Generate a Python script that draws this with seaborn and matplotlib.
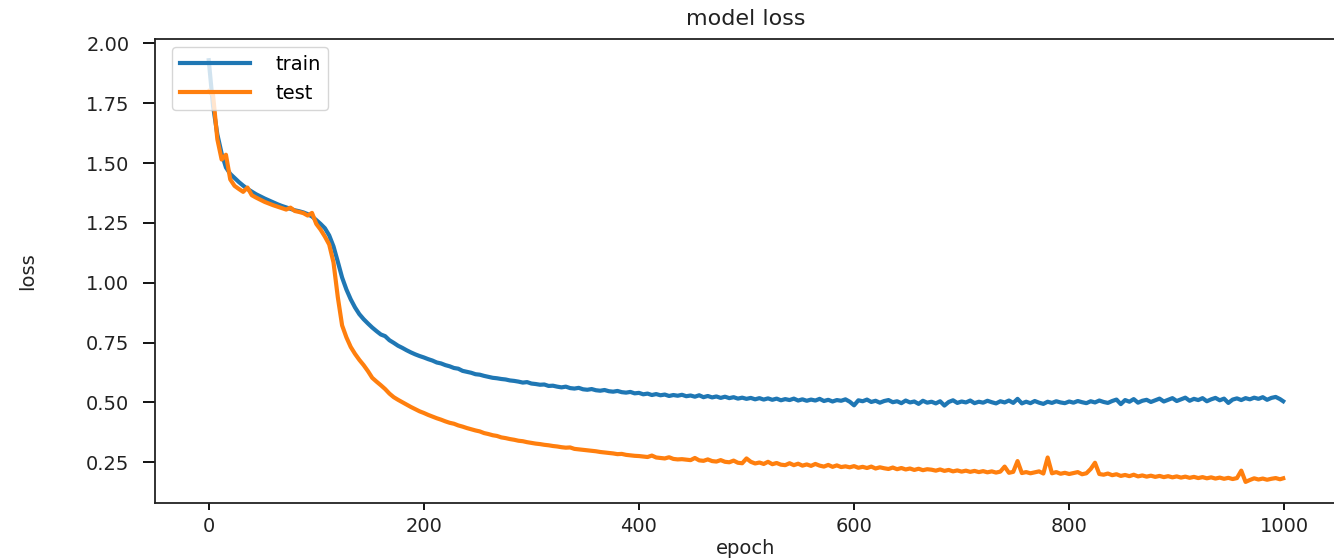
import numpy as np
import pandas as pd
import matplotlib
matplotlib.use("Agg")
import matplotlib.pyplot as plt
import seaborn as sns

# epochs sampled every 4, plus the final epoch
epochs = list(range(0, 1000, 4)) + [999]

train_loss = [
    1.930, 1.740, 1.620, 1.540, 1.482, 1.455, 1.438, 1.421, 1.406, 1.392,
    1.381, 1.370, 1.361, 1.352, 1.344, 1.336, 1.328, 1.321, 1.315, 1.309,
    1.303, 1.299, 1.294, 1.287, 1.277, 1.262, 1.246, 1.228, 1.198, 1.152,
    1.088, 1.022, 0.972, 0.931, 0.897, 0.869, 0.848, 0.830, 0.813, 0.798,
    0.784, 0.777, 0.760, 0.749, 0.737, 0.728, 0.718, 0.709, 0.701, 0.694,
    0.688, 0.681, 0.675, 0.667, 0.663, 0.656, 0.651, 0.644, 0.641, 0.632,
    0.628, 0.624, 0.618, 0.616, 0.611, 0.607, 0.603, 0.601, 0.598, 0.596,
    0.592, 0.590, 0.587, 0.583, 0.585, 0.579, 0.577, 0.574, 0.575, 0.569,
    0.570, 0.566, 0.563, 0.566, 0.560, 0.558, 0.561, 0.555, 0.553, 0.556,
    0.551, 0.549, 0.552, 0.547, 0.545, 0.548, 0.543, 0.541, 0.544, 0.538,
    0.540, 0.534, 0.537, 0.531, 0.535, 0.530, 0.533, 0.527, 0.531, 0.528,
    0.532, 0.526, 0.529, 0.524, 0.530, 0.522, 0.527, 0.521, 0.525, 0.519,
    0.524, 0.518, 0.522, 0.516, 0.520, 0.515, 0.519, 0.513, 0.518, 0.512,
    0.517, 0.511, 0.516, 0.509, 0.514, 0.510, 0.516, 0.508, 0.513, 0.507,
    0.512, 0.508, 0.515, 0.506, 0.511, 0.504, 0.510, 0.507, 0.513, 0.503,
    0.488, 0.509, 0.505, 0.512, 0.502, 0.507, 0.499, 0.506, 0.510, 0.501,
    0.505, 0.497, 0.508, 0.500, 0.504, 0.494, 0.507, 0.499, 0.503, 0.496,
    0.505, 0.487, 0.502, 0.509, 0.498, 0.504, 0.500, 0.508, 0.497, 0.503,
    0.499, 0.507, 0.501, 0.496, 0.505, 0.500, 0.508, 0.498, 0.515, 0.496,
    0.503, 0.497, 0.506, 0.499, 0.494, 0.503, 0.498, 0.505, 0.500, 0.497,
    0.504, 0.499, 0.506, 0.501, 0.497, 0.505, 0.500, 0.508, 0.502, 0.498,
    0.506, 0.512, 0.493, 0.510, 0.503, 0.514, 0.499, 0.507, 0.511, 0.502,
    0.509, 0.516, 0.504, 0.511, 0.518, 0.506, 0.513, 0.520, 0.507, 0.515,
    0.510, 0.518, 0.505, 0.513, 0.519, 0.509, 0.516, 0.498, 0.512, 0.517,
    0.510, 0.518, 0.513, 0.520, 0.515, 0.522, 0.511, 0.519, 0.523, 0.514,
    0.505,
]

test_loss = [
    1.800, 1.785, 1.600, 1.515, 1.535, 1.432, 1.405, 1.392, 1.380, 1.398,
    1.366, 1.356, 1.347, 1.338, 1.331, 1.324, 1.318, 1.312, 1.306, 1.314,
    1.300, 1.296, 1.291, 1.281, 1.292, 1.246, 1.222, 1.193, 1.160, 1.085,
    0.940, 0.822, 0.772, 0.732, 0.703, 0.678, 0.656, 0.631, 0.603, 0.587,
    0.572, 0.556, 0.537, 0.522, 0.511, 0.501, 0.491, 0.481, 0.472, 0.463,
    0.456, 0.448, 0.441, 0.434, 0.428, 0.421, 0.415, 0.411, 0.404, 0.399,
    0.393, 0.388, 0.383, 0.379, 0.372, 0.368, 0.363, 0.360, 0.354, 0.351,
    0.347, 0.344, 0.340, 0.338, 0.334, 0.331, 0.328, 0.326, 0.323, 0.321,
    0.318, 0.316, 0.313, 0.311, 0.312, 0.306, 0.304, 0.302, 0.300, 0.298,
    0.296, 0.293, 0.291, 0.289, 0.287, 0.284, 0.285, 0.281, 0.279, 0.277,
    0.276, 0.274, 0.272, 0.278, 0.270, 0.268, 0.266, 0.271, 0.264, 0.262,
    0.263, 0.261, 0.259, 0.268, 0.258, 0.256, 0.262, 0.255, 0.253, 0.259,
    0.252, 0.250, 0.257, 0.248, 0.246, 0.266, 0.252, 0.245, 0.249, 0.243,
    0.252, 0.242, 0.247, 0.240, 0.238, 0.246, 0.238, 0.244, 0.236, 0.241,
    0.235, 0.243, 0.236, 0.232, 0.239, 0.231, 0.237, 0.230, 0.233, 0.229,
    0.234, 0.227, 0.231, 0.226, 0.232, 0.224, 0.229, 0.225, 0.222, 0.228,
    0.221, 0.226, 0.220, 0.224, 0.218, 0.223, 0.217, 0.221, 0.219, 0.215,
    0.220, 0.214, 0.218, 0.212, 0.216, 0.211, 0.215, 0.210, 0.214, 0.209,
    0.213, 0.208, 0.212, 0.207, 0.211, 0.232, 0.206, 0.210, 0.255, 0.205,
    0.209, 0.204, 0.208, 0.212, 0.203, 0.270, 0.204, 0.209, 0.202, 0.206,
    0.201, 0.205, 0.209, 0.200, 0.204, 0.222, 0.248, 0.201, 0.198, 0.203,
    0.196, 0.200, 0.193, 0.197, 0.192, 0.198, 0.191, 0.195, 0.190, 0.194,
    0.189, 0.193, 0.188, 0.192, 0.187, 0.191, 0.186, 0.190, 0.185, 0.189,
    0.184, 0.188, 0.183, 0.187, 0.182, 0.186, 0.181, 0.185, 0.180, 0.184,
    0.215, 0.168, 0.176, 0.183, 0.178, 0.182, 0.177, 0.181, 0.184, 0.179,
    0.183,
]

series_labels = ["train", "test"]
title_text = "model loss"
x_label = "epoch"
y_label = "loss"

df = pd.DataFrame({
    "epoch": epochs * 2,
    "loss": train_loss + test_loss,
    "series": [series_labels[0]] * len(epochs) + [series_labels[1]] * len(epochs),
})

fig = plt.figure(figsize=(13.34, 5.59), dpi=100)
ax = fig.add_axes([0.1162, 0.1002, 0.886, 0.8298])

sns.lineplot(data=df, x="epoch", y="loss", hue="series",
             palette=["#1f77b4", "#ff7f0e"], linewidth=3.0, ax=ax,
             estimator=None, sort=False)

ax.set_title(title_text, fontsize=16, pad=10, color="#222222")
ax.set_xlabel(x_label, fontsize=14, labelpad=2, color="#222222")
ax.set_ylabel(y_label, fontsize=14, color="#222222")
ax.yaxis.set_label_coords(-0.10, 0.5)
ax.set_xticks([0, 200, 400, 600, 800, 1000])
ax.set_yticks([0.25, 0.50, 0.75, 1.00, 1.25, 1.50, 1.75, 2.00])
ax.tick_params(axis="x", labelsize=14, length=5, width=1.3, pad=5, labelcolor="#222222")
ax.tick_params(axis="y", labelsize=14, length=8.5, width=1.3, pad=10, labelcolor="#222222")
for s in ax.spines.values():
    s.set_linewidth(1.3)
    s.set_color("#222222")
leg = ax.legend(loc="upper left", fontsize=14, handlelength=3.6,
                handletextpad=1.3, bbox_to_anchor=(0.0144, 0.983),
                borderaxespad=0.0)
leg.set_title(None)

fig.savefig("out.png", dpi=100)
